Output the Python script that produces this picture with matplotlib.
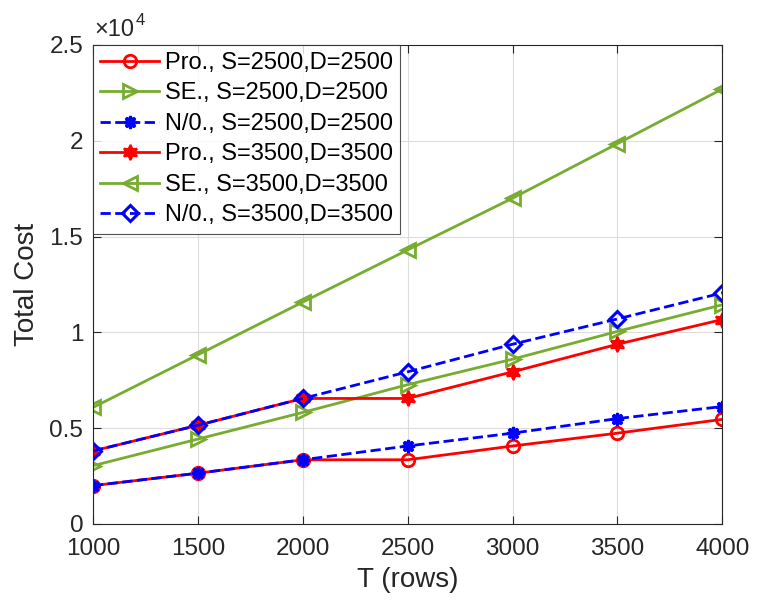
import matplotlib
matplotlib.use("Agg")
import matplotlib.pyplot as plt
from matplotlib.ticker import FuncFormatter
import numpy as np

plt.rcParams['font.family'] = ['Liberation Sans', 'DejaVu Sans']

T = [1000, 1500, 2000, 2500, 3000, 3500, 4000]

pro_2500 = [2000, 2650, 3350, 3350, 4070, 4740, 5460]
se_2500 = [3040, 4430, 5820, 7270, 8600, 10050, 11440]
n0_2500 = [2000, 2650, 3350, 4070, 4740, 5500, 6130]
pro_3500 = [3810, 5150, 6550, 6550, 7940, 9380, 10670]
se_3500 = [6080, 8830, 11580, 14300, 17000, 19850, 22700]
n0_3500 = [3810, 5150, 6550, 7940, 9380, 10700, 12060]

labels = ['Pro., S=2500,D=2500', 'SE., S=2500,D=2500', 'N/0., S=2500,D=2500',
          'Pro., S=3500,D=3500', 'SE., S=3500,D=3500', 'N/0., S=3500,D=3500']

red = '#FF0000'
green = '#77AC30'
blue = '#0000FF'
dark = '#262626'

fig = plt.figure(figsize=(7.62, 6.15), dpi=100)
ax = fig.add_axes([0.122, 0.148, 0.826, 0.779])

lw = 2
ax.plot(T, pro_2500, '-', color=red, lw=lw, marker='o', ms=9, mfc='none', mew=2, label=labels[0])
ax.plot(T, se_2500, '-', color=green, lw=lw, marker='>', ms=10, mfc='none', mew=2, label=labels[1])
ax.plot(T, n0_2500, '--', color=blue, lw=lw, marker=(8, 1, 0), ms=9, mfc=blue, mew=2, label=labels[2])
ax.plot(T, pro_3500, '-', color=red, lw=lw, marker=(6, 1, 0), ms=11, mfc=red, mew=1.5, label=labels[3])
ax.plot(T, se_3500, '-', color=green, lw=lw, marker='<', ms=10, mfc='none', mew=2, label=labels[4])
ax.plot(T, n0_3500, '--', color=blue, lw=lw, marker='D', ms=8, mfc='none', mew=2.2, label=labels[5])

ax.set_xlim(1000, 4000)
ax.set_ylim(0, 25000)
ax.set_xticks(np.arange(1000, 4001, 500))
ax.set_yticks(np.arange(0, 25001, 5000))
ax.yaxis.set_major_formatter(FuncFormatter(lambda v, p: '%g' % (v / 1e4)))

# exponent label drawn as plain text so it matches the tick font
ax.annotate('\u00d710', xy=(0, 1), xycoords='axes fraction', xytext=(1, 3),
            textcoords='offset points', fontsize=17, color=dark, ha='left', va='bottom')
ax.annotate('4', xy=(0, 1), xycoords='axes fraction', xytext=(30.5, 12),
            textcoords='offset points', fontsize=12, color=dark, ha='left', va='bottom')

ax.grid(True, color='#DDDDDD', lw=0.8)
ax.set_axisbelow(True)
ax.tick_params(direction='in', top=True, right=True, labelsize=17.5, length=6, colors=dark)
ax.tick_params(axis='x', pad=10)
ax.tick_params(axis='y', pad=7)
for s in ax.spines.values():
    s.set_color(dark)
    s.set_linewidth(0.8)

ax.set_xlabel('T (rows)', fontsize=20, color=dark, labelpad=5)
ax.set_ylabel('Total Cost', fontsize=20, color=dark, labelpad=7)

leg = ax.legend(loc='upper left', fontsize=17, frameon=True, fancybox=False,
                edgecolor=dark, borderaxespad=0, handlelength=2.5,
                labelspacing=0.36, borderpad=0.3, handletextpad=0.25)
leg.get_frame().set_linewidth(0.8)

fig.savefig('out.png', dpi=100)
